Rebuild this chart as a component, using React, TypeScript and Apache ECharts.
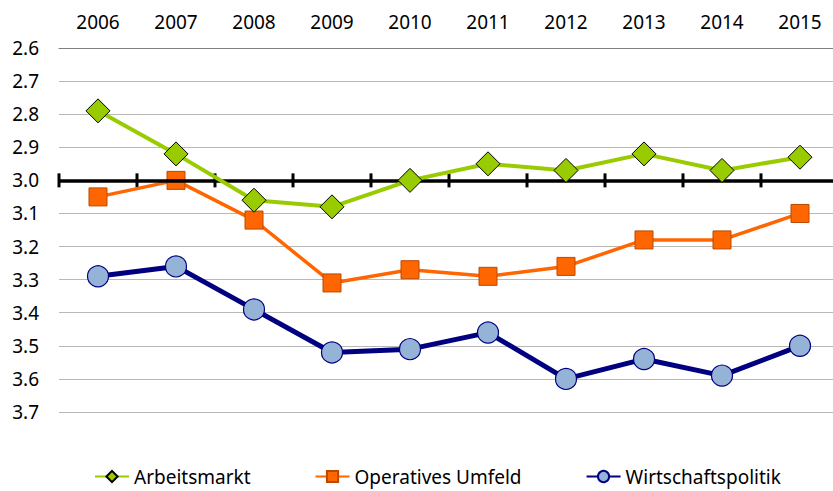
import React, { useEffect, useRef } from "react";
import * as echarts from "echarts";

const years = ["2006", "2007", "2008", "2009", "2010", "2011", "2012", "2013", "2014", "2015"];
const arbeitsmarkt = [2.79, 2.92, 3.06, 3.08, 3.0, 2.95, 2.97, 2.92, 2.97, 2.93];
const operativesUmfeld = [3.05, 3.0, 3.12, 3.31, 3.27, 3.29, 3.26, 3.18, 3.18, 3.1];
const wirtschaftspolitik = [3.29, 3.26, 3.39, 3.52, 3.51, 3.46, 3.6, 3.54, 3.59, 3.5];
const baseline = 3.0;
const yMin = 2.6;
const yMax = 3.7;
const yStep = 0.1;

const FONT = "Noto Sans";

export default function App() {
  const ref = useRef<HTMLDivElement>(null);

  useEffect(() => {
    if (!ref.current) return;
    const chart = echarts.init(ref.current, undefined, { renderer: "svg" });
    chart.setOption({
      animation: false,
      backgroundColor: "#ffffff",
      textStyle: { fontFamily: FONT, color: "#000" },
      grid: { left: 59, top: 48, width: 780, bottom: 79 },
      legend: {
        data: ["Arbeitsmarkt", "Operatives Umfeld", "Wirtschaftspolitik"],
        left: 89,
        top: 462,
        itemWidth: 34,
        itemHeight: 14,
        itemGap: 64,
        textStyle: { fontFamily: FONT, fontSize: 19, color: "#000" },
      },
      xAxis: {
        type: "category",
        data: years,
        position: "top",
        boundaryGap: true,
        axisLine: { show: true, onZero: false, lineStyle: { color: "#808080", width: 1 } },
        axisTick: { show: false },
        axisLabel: { fontFamily: FONT, fontSize: 19, color: "#000", margin: 17 },
        splitLine: { show: false },
      },
      yAxis: {
        type: "value",
        inverse: true,
        min: yMin,
        max: yMax,
        interval: yStep,
        axisLine: { show: false },
        axisTick: { show: false },
        axisLabel: {
          fontFamily: FONT,
          fontSize: 19,
          color: "#000",
          margin: 20,
          formatter: (v: number) => v.toFixed(1),
        },
        splitLine: { show: true, lineStyle: { color: "#b8b8b8", width: 1 } },
      },
      series: [
        {
          type: "custom",
          name: "baseline",
          z: 1,
          data: years.map((_, i) => [i, baseline]),
          renderItem: (params: any, api: any) => {
            const p = api.coord([api.value(0), api.value(1)]);
            const w = api.size([1, 0])[0];
            const x = p[0] - w / 2;
            return {
              type: "line",
              shape: { x1: x, y1: p[1] - 7, x2: x, y2: p[1] + 7 },
              style: { stroke: "#000", lineWidth: 3 },
            };
          },
          markLine: {
            silent: true,
            symbol: "none",
            label: { show: false },
            lineStyle: { color: "#000", width: 3.5, type: "solid" },
            data: [{ yAxis: baseline }],
          },
        },
        {
          type: "line",
          name: "Arbeitsmarkt",
          data: arbeitsmarkt,
          z: 5,
          symbol: "diamond",
          symbolSize: 24,
          lineStyle: { color: "#99cc00", width: 4 },
          itemStyle: { color: "#99cc00", borderColor: "#000", borderWidth: 1 },
        },
        {
          type: "line",
          name: "Operatives Umfeld",
          data: operativesUmfeld,
          z: 4,
          symbol: "rect",
          symbolSize: 18,
          lineStyle: { color: "#ff6600", width: 3.5 },
          itemStyle: { color: "#ff6600", borderColor: "#b84a00", borderWidth: 1 },
        },
        {
          type: "line",
          name: "Wirtschaftspolitik",
          data: wirtschaftspolitik,
          z: 3,
          symbol: "circle",
          symbolSize: 21,
          lineStyle: { color: "#000080", width: 5 },
          itemStyle: { color: "#95b3d7", borderColor: "#000080", borderWidth: 1.2 },
        },
      ],
    });
    return () => chart.dispose();
  }, []);

  return (
    <div style={{ position: "fixed", left: 0, top: 0, width: 833, height: 491, overflow: "hidden", background: "#fff" }}>
      <div ref={ref} style={{ width: 845, height: 491 }} />
    </div>
  );
}
